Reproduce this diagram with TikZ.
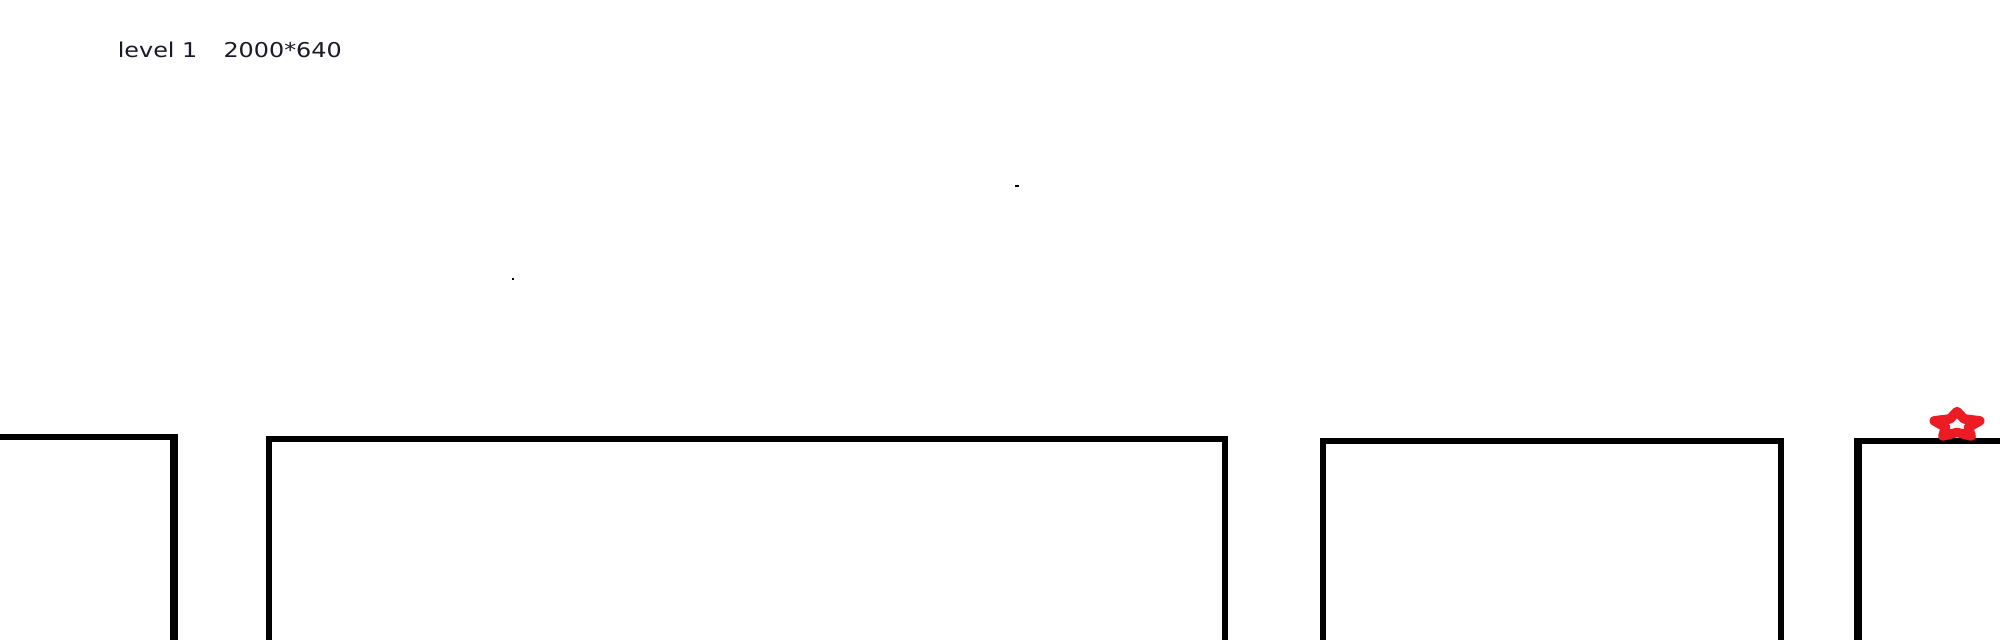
\documentclass[tikz,border=0pt]{standalone}
\usepackage{fontspec}
\setmainfont{DejaVu Sans}
\usetikzlibrary{positioning}
\definecolor{starred}{RGB}{237,28,36}
\definecolor{labelink}{RGB}{25,25,40}
\tikzset{
    wall/.style={black, line width=1.55pt, line join=miter},
    thickwall/.style={black, line width=2.5pt},
    starline/.style={starred, line width=2.7pt, line join=round},
    levellabel/.style={font=\fontsize{5.8pt}{6pt}\selectfont, text=labelink, inner sep=0pt, xscale=1.17, transform shape}
}

\begin{document}
\begin{tikzpicture}[x=0.01cm, y=-0.01cm]
\path[use as bounding box, fill=white] (0,0) rectangle (2000,640);
\node[levellabel, anchor=base west] (lvl) at (117,58) {level 1\hspace{1.1em}2000*640};
% specks
\fill[black] (1015,185) rectangle (1019,187);
\fill[black] (512,278) rectangle (514,280);
% blocks
\coordinate (A) at (174,437);
\coordinate (B) at (269,439);
\coordinate (C) at (1225,439);
\coordinate (D) at (1323,441);
\coordinate (E) at (1781,441);
\coordinate (F) at (1858,441);
\draw[wall] (0,437) -- (A);
\draw[thickwall] ([yshift=0.025cm]A) -- (174,640);
\draw[wall] (269,640) -- (B) -- (C) -- (1225,640);
\draw[wall] (1323,640) -- (D) -- (E) -- (1781,640);
\draw[thickwall] (1858,640) -- ([yshift=0.025cm]F);
\draw[wall] ([xshift=-0.04cm]F) -- (2000,441);
% star
\begin{scope}[shift={(1957,425)}]
\draw[starline] (-90:24 and 13.5)
    \foreach \i/\o in {-54/-18, 18/54, 90/126, 162/198}{ -- (\i:12 and 7.5) -- (\o:24 and 13.5)}
    -- (234:12 and 7.5) -- cycle;
\end{scope}
\end{tikzpicture}
\end{document}
